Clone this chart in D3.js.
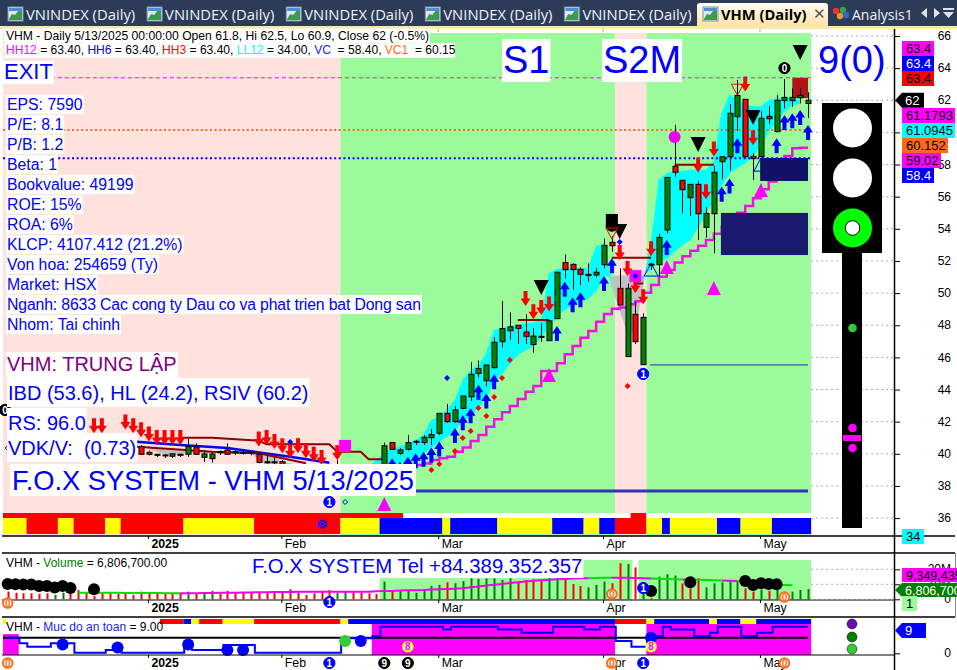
<!DOCTYPE html>
<html><head><meta charset="utf-8">
<script src="https://cdn.jsdelivr.net/npm/d3@7/dist/d3.min.js"></script>
<style>html,body{margin:0;padding:0;background:#fff;overflow:hidden}svg{display:block}text{font-family:"Liberation Sans",Arial,sans-serif}</style>
</head><body><svg id="c" width="957" height="670"></svg>
<script>
// ---------- DATA ----------
const tabTitles=["VNINDEX (Daily)","VNINDEX (Daily)","VNINDEX (Daily)","VNINDEX (Daily)","VNINDEX (Daily)"];
const firstCandle=17;
const opens=[40.45,40.09,39.97,39.93,39.85,39.97,39.97,40.43,39.78,39.7,40.13,40.24,40.13,40.1,40.1,39.97,39.5,39.5,39.51,39.1,38.9,38.7,38.5,38.3,38.2,38.1,38.4,38.7,38.8,38.9,39,39.2,40.7,40.03,40.28,40.74,40.7,41,41.28,42.52,42,42.83,43.55,45,44.55,45.36,46.98,47.66,48,47.58,46.8,47.27,47.04,48.41,51.9,51.79,51.48,51.17,51.13,51.77,53.16,50.3,46.05,48.68,45.55,51.75,51.77,53.93,57.89,57.02,55.94,56.77,54.09,54.94,58.18,58.49,60.98,62.06,58.51,58.49,61,60.05,61.98,61.98,62.16,61.8];
const highs=[40.55,40.2,40,39.97,40,40,40.96,40.65,40.24,40.13,40.2,40.65,40.24,40.2,40.2,40.13,39.9,39.75,39.6,39.2,39,38.9,38.7,38.5,38.4,39.6,38.9,39,39,39.2,39.3,40.7,40.7,40.35,41.17,40.85,41.17,41.55,42.52,43.1,42.98,43.6,45.7,45.8,45.53,47.25,49.5,48.8,48,48.68,47.83,48.12,48.3,51.3,52.4,51.85,51.6,51.85,51.55,53.4,53.55,51.54,50.6,49.47,48.74,51.9,53.68,57.2,60.46,57.02,56.77,56.98,55.36,57.91,58.53,61.77,63.26,62.06,58.7,61.31,61.64,62.33,63.32,62.74,62.74,62.5];
const lows=[39.93,39.9,39.8,39.75,39.75,39.8,39.82,39.93,39.51,39.45,39.93,39.93,39.93,39.95,39.9,39.41,39.4,39.35,39.1,38.7,38.6,38.4,38.2,38,37.9,37.9,38.2,38.5,38.5,38.7,38.8,39,40.28,39.93,40.2,40.55,40.55,40.55,41.17,41.94,41.94,42.77,43.3,44.74,44.2,45.32,46.6,47.1,46.83,46.83,46.3,46.98,47.04,48.41,50.92,50.2,50.5,50.7,50.98,51.55,52.58,49.26,46.05,46.83,45.55,51.44,51.02,53.72,57.25,54.96,54.8,53.3,53.45,52.47,57.08,57.62,60.11,58.39,57.04,58.43,60.52,60,61.5,61.6,61.81,60.9];
const closes=[39.97,39.97,39.93,39.9,40,39.95,40.45,39.97,39.99,39.99,40.09,39.97,40.1,40.08,40.08,39.47,39.48,39.47,39.2,38.9,38.7,38.5,38.3,38.2,38.1,38.5,38.7,38.8,38.9,39,39.1,40.5,40.28,40.24,40.7,40.78,41.03,41.2,42.52,42,42.73,43.6,44.95,45.3,45.53,46.94,47.8,47.9,47.8,47.3,47.33,47.31,48.27,51.3,51.46,51.46,51.17,51.09,51.3,52.97,52.95,49.26,50.3,46.98,48.49,51.8,53.47,57.2,57.52,56.44,56.77,54.94,54.96,57.52,58.49,61.19,62.3,58.49,58.37,60.88,60.85,62,62.18,62.18,62.3,62];

const firstBand=18;
const bandFast=[40.28,40.13,39.99,39.93,39.97,40.03,40.03,40.03,40.03,40.18,40.18,40.18,40.18,40.18,39.51,39.41,39.41,39,38.9,38.8,38.7,38.6,38.5,38.45,38.5,38.7,38.9,39.05,39.2,39.62,40.03,40.34,40.45,40.65,40.86,41.17,42.1,42.31,42.73,43.35,44.6,45.2,45.5,46.25,47.7,47.8,47.95,48,48.1,48.16,48.3,51.23,51.48,51.55,51.55,51.55,51.55,52.9,53.1,50.4,48.95,47.5,47.7,50.6,53.2,57.04,57.45,57.56,57.6,57.66,57.66,57.66,58.18,61.2,62.33,62,61.7,61.6,61.6,62,62.1,62.1,62.1,62];
const bandSlow=[40.45,40.34,40.28,40.24,40.2,40.18,40.18,40.18,40.18,40.03,40.03,40.03,40.03,40.03,40.07,39.93,39.78,39.5,39.4,39.3,39.2,39.1,39,38.95,38.9,38.85,38.8,38.8,38.85,38.99,39.1,39.2,39.4,39.5,39.7,40.03,40.34,40.76,41.07,41.48,42,42.3,42.9,43.56,44.5,45,45.6,46.15,46.46,46.67,47.3,47.9,48.64,48.95,49.26,49.47,49.68,50.1,51.1,51,51.1,51.1,51,51.1,51.5,51.96,52.16,52.58,53,53.3,54.1,54.96,55.8,56.73,57.45,57.8,58.1,58.5,59.2,60.05,60.7,61.3,61.7,61.8];

const firstStop=52;
const stopLine=[39.2,39.3,39.4,39.62,39.72,39.82,40.13,40.4,40.8,41.17,41.69,42.15,42.58,42.98,43.41,43.87,44.22,45.15,45.15,45.63,46.2,46.71,47.23,47.64,48.22,48.7,49.03,49.1,49.3,49.5,50.03,50.5,51.02,51.44,51.9,52.3,52.64,52.95,53.3,53.7,54.13,54.55,55,55.42,55.9,56.46,56.94,57.66,58.53,59.01,59.05];
const blueAvg=[[16,40.76],[22,40.55],[28,40.36],[36,39.82],[41,39.45]];
const wineUpper=[[22,41],[26,41],[32,40.82],[33,40.59],[41,40.59],[42,40.13],[45,40.13],[46,39.66],[48,39.66]];
const wineLower=[[16,40.45],[26,40.13],[32,40.03],[38,39.41]];
const wineLevels=[[65,69,48.33],[77,82,52.2],[85,90,57.99],[80,81,50.6]];

const exitLevels=[{v:63.4,c:"#ff00ff",w:1,d:"4,3",from:6.1},{v:60.15,c:"#ff6a1a",w:2,d:"2,2.6",from:0},{v:58.4,c:"#0000ff",w:2,d:"2,2.6",from:0}];
const longLevels=[{v:37.69,c:"#3333bb",w:3,from:52},{v:45.53,c:"#2222cc",w:1,from:81.9}];
const zones=[{from:90.9,to:102,hi:54.99,lo:52.37,c:"#191970"},{from:95.9,to:102,hi:58.41,lo:56.98,c:"#111166"},{from:100,to:102,hi:63.4,lo:62.14,c:"#b01414"}];

const arrowsUp=[[49,39.72],[50,39.5],[51,39.82],[52,40.03],[53,40.13],[54,40.4],[55,40.76],[57,41.6],[58,42.4],[59,42.83],[60,44.3],[61,43.76],[62,44.95],[70,47.95],[71,50.7],[72,49.74],[73,50.05],[76,51.07],[77,52.17],[84,53.3],[91,56.62],[92,57.14],[93,59.63],[98,59.63],[99,61.08],[100,61.19],[101,61.4],[102,60.46]];
const arrowsDown=[[11,41.28],[12,41.28],[15,41.52],[16,41.28],[17,41.03],[18,40.76],[19,40.55],[20,40.55],[21,40.55],[22,40.55],[32,40.45],[33,40.55],[34,40.3],[35,40.03],[36,39.72],[37,40.03],[38,39.72],[39,39.5],[40,39.3],[42,39.6],[66,49.2],[67,48.37],[68,48.64],[69,48.85],[78,52.06],[79,51.07],[80,50],[81,49.3],[82,52.3],[88,57.5],[89,55.84],[90,58.5],[94,62.54],[95,59.2]];
const blackDown=[[101,64.51],[88,58.78],[95,60.46],[68,49.88],[78,53.37]];
const magentaUp=[[84,52.06],[90,50.75],[96,56.85],[69,45.34],[48,37.31]];
const hollowBlueUp=[[82,51.87],[96,58.4]];
const hollowRedDown=[[77,54.05],[93,63]];
const magentaSquares=[[80,51.06],[43,40.49]];
const magentaCircles=[[85,59.71]];
const blackSquares=[[77,54.49]];
const redDiamonds=[[54,39],[55,39.37],[57,40.18],[58,40.99],[59,41.42],[61,42.35],[60,42.85],[62,43.54],[63,44.72],[64,45.84],[79,44.22]];
const blueDiamonds=[[56,44.72],[78,53.18],[80,51.06],[36,40.74]];
const hollowDiamonds=[[43,37],[0,40.36]];
const mainBadges=[[41,37,"1","b"],[81,44.97,"1","b"],[99,64,"0","k"],[-0.35,42.73,"0","k"],[77,54.2,"","k"]];

const regimes=[[0,42,"#ffe1dd"],[43,77,"#9bfb9b"],[78,81,"#ffe1dd"],[82,102,"#9bfb9b"]];
const stripe=[[0,2,"y"],[3,6,"r"],[7,8,"y"],[9,12,"r"],[13,14,"y"],[15,22,"r"],[23,31,"y"],[32,42,"r"],[43,47,"y"],[48,55,"b"],[56,56,"y"],[57,62,"b"],[63,69,"y"],[70,73,"b"],[74,75,"y"],[76,77,"b"],[78,81,"r"],[82,83,"y"],[84,84,"b"],[85,90,"y"],[91,93,"b"],[94,97,"y"],[98,102,"b"]];
const thinStripe=[[0,50,"r"],[51,79,"w"],[80,81,"r"],[82,102,"w"]];
const moodStripe=[[20,22,"r"],[23,23,"b"],[24,24,"y"],[25,27,"r"],[28,31,"y"],[32,42,"r"],[43,43,"y"],[44,77,"b"],[78,81,"r"],[82,82,"y"],[83,89,"b"],[90,90,"y"],[91,93,"b"],[94,95,"y"],[96,102,"b"]];
const stripeColors={y:"#ffff00",r:"#ff0000",b:"#0000ff",w:"#ffffff"};

const dateTicks=[18,35,55,76,96];
const dateLabels=["2025","Feb","Mar","Apr","May"];
const priceTicks=[36,38,40,42,44,46,48,50,52,54,56,58,60,62,64,66];

const volumes=[5.1,4.4,4,4,3.6,4,2.9,4.4,4,6.2,4,2.2,4,4,3.6,4,2.9,5.1,4,4.4,3.6,3.6,4,5.1,3.6,4.4,5.6,3.6,5.6,4,4.9,4.4,4.9,4.4,4.9,4.9,6.7,4.4,2.9,4,5.6,6.2,4.4,5.1,5.1,4.4,4,3.6,11.8,5.1,6.2,6.2,4.4,6.7,8.9,9.6,11.3,10.7,12.2,14,13.6,14,14,12.9,14,11.3,12.9,13.3,13.3,14,14.4,13.3,10.2,8.9,8,9.6,11.8,10.7,24,23.6,21.3,9.6,0.7,15.1,16.7,15.8,10.7,7.3,14,8,10.7,11.3,12.9,11.8,7.3,5.1,6.2,5.6,6.2,5.1,5.1,6.2,6.8];
const volSigns="rrrrrrggrr"+"rrrrrrrrrr"+"rrrgrggrrr"+"rrrrrrrrrr"+"rrggrrrrgr"+"ggggggrggg"+"gggggrrrrg"+"grrrgggrrg"+"rgrgggrrrg"+"ggggrrgrgg"+"ggg";
const firstVolMA=9;
const volMA=[4.4,4.4,4.4,4.3,4.3,4.3,4.2,4.2,4.2,4.2,4.2,4.1,4,4,4.1,4.1,4.2,4.2,4.3,4.4,4.4,4.5,4.6,4.7,4.7,4.8,4.8,4.9,5,5.1,5.1,5.1,5.1,5.1,5.1,5.1,5.1,5.1,5.3,5.5,5.6,5.8,6,6.1,6.2,6.5,6.7,6.9,7.1,7.3,8,8.6,9.2,9.7,10.2,10.8,11.3,11.8,12.4,12.7,13,13.3,13.6,13.8,14,14.1,14.2,14.3,14.3,14.4,14.4,14.2,14,13.8,13.7,13.5,13.4,13.2,13.1,13,12.8,12.7,12.5,12.4,12.2,12,11.8,11.5,11.1,9.6,9.5,9.4];
const volMARuns=[[9,22,"#00e000"],[22,60,"#ee00ee"],[60,74,"#ee00ee"],[74,77,"#00e000"],[77,82,"#ee00ee"],[82,86,"#00e000"],[86,87,"#ee00ee"],[87,91,"#00e000"],[91,93,"#ee00ee"],[93,100,"#00e000"],[100,102,"#ee00ee"]];
const volDots=[[0,10.2],[1,10],[2,9.8],[3,9.8],[4,8.8],[5,8.8],[6,7.8],[7,8.8],[8,7.6],[11,6.7],[82,5.6],[87,11.3],[94,12.2],[95,9.6],[96,10.7],[97,10.2],[98,10]];
const volBadges=[[0,-2.5,"0","o"],[77,3.5,"0","o"],[99,1.5,"0","o"],[41,-1.8,"1","b"],[81,7.5,"1","b"]];
const volTicks=[0,10,20];

const mood=[5.3,5.3,3.4,2.25,2.25,2.25,3.4,3.4,3.4,.2,.2,.2,.2,1.1,2,.2,.2,.2,.2,.2,.2,.2,.2,2.8,1.1,1.1,1.1,1.1,2.8,2.8,2.8,2.8,.2,.2,.2,.2,.2,.2,.2,.2,.2,.2,.2,5.07,5.07,5.07,5.07,5.9,9,9,9,9,9,9,9,9,8.1,9,9,9,9,9,9,8.1,8.1,8.1,7,7,7,7,9,9,9,9,8.1,8.1,9,9,4.2,4.2,2.25,2.25,5.3,5.9,9,8.1,8.1,8.1,5.9,5.9,7,9,9,9,5.9,5.9,7,7,9,9,9,9,9];
const moodFill=[[0,1,6.5],[47,77,10],[82,102,10]];
const moodBase=5.3;
const moodDots=[[7,3,"#0000ff"],[14,2,"#0000ff"],[23,3,"#0000ff"],[28,1.1,"#0000ff"],[30,1.1,"#0000ff"],[45,4.2,"#0000ff"],[43,4.2,"#33cc33"],[82,5.3,"#0000ff"]];
const moodBadges=[[0,-3.3,"0","o"],[77,-3.3,"0","o"],[99,-3.3,"0","o"],[41,-3.3,"1","b"],[81,-3.3,"1","b"],[48,-3.3,"9","k"],[51,-3.3,"9","k"],[51,2.24,"8","y"],[82,2.24,"8","y"]];

const infoLines=["EPS: 7590","P/E: 8.1","P/B: 1.2","Beta: 1","Bookvalue: 49199","ROE: 15%","ROA: 6%","KLCP: 4107.412 (21.2%)","Von hoa: 254659 (Ty)","Market: HSX","Nganh: 8633 Cac cong ty Dau co va phat trien bat Dong san","Nhom: Tai chinh"];
const priceTags=[{t:"63.4",y:41,w:32,c:"#ff00ff",f:"#000"},{t:"63.4",y:56,w:32,c:"#0000ff",f:"#fff"},{t:"63.4",y:71,w:32,c:"#ff0000",f:"#000"},{t:"61.1793",y:108,w:53,c:"#ff00ff",f:"#000"},{t:"61.0945",y:123,w:53,c:"#00ffff",f:"#000"},{t:"60.152",y:138,w:46,c:"#ff6a1a",f:"#000"},{t:"59.02",y:153,w:39,c:"#ff00ff",f:"#000"},{t:"58.4",y:168,w:32,c:"#0000ff",f:"#fff"},{t:"34",y:529,w:22,c:"#00ffff",f:"#000"}];

// ---------- SCALES ----------
const W=957,H=670,LAST=102;
const svg=d3.select("#c");
const x=d3.scaleLinear().domain([0,LAST]).range([7.7,808]);
const y=d3.scaleLinear().domain([36,66]).range([518.1,36]);
const yV=d3.scaleLinear().domain([0,20]).range([599.3,569.3]);
const yM=d3.scaleLinear().domain([0,10]).range([653.3,623.8]);
const bx0=i=>x(i-.6), bx1=i=>x(i+.4);
const G=n=>svg.append("g").attr("class",n);

// ---------- WINDOW FRAME ----------
const frame=G("frame");
frame.append("rect").attr("width",W).attr("height",26).attr("fill","#2c3b58");
frame.append("rect").attr("y",26).attr("width",W).attr("height",3).attr("fill","#fbe6ae");
const tabs=G("tabs");
const tabFont='"Open Sans","Noto Sans",sans-serif';
function icon(g,px){
  g.append("rect").attr("x",px).attr("y",7).attr("width",15).attr("height",14).attr("fill","#dfe8f2").attr("stroke","#7f8fa5");
  g.append("path").attr("d",d3.line()([[px+1,19],[px+4,14],[px+7,15],[px+10,11],[px+14,9],[px+14,20],[px+1,20]])).attr("fill","#3c9a4a");
  g.append("rect").attr("x",px+1).attr("y",8).attr("width",13).attr("height",3).attr("fill","#4a8fd8");
}
tabTitles.forEach((t,k)=>{const ox=8+k*139.1;icon(tabs,ox);
  tabs.append("text").attr("x",ox+18).attr("y",20).attr("fill","#eef2f7").attr("font-size",14.8).style("font-family",tabFont).text(t);});
const act=svg.append("defs").append("linearGradient").attr("id","tabg").attr("x1",0).attr("y1",0).attr("x2",0).attr("y2",1);
act.append("stop").attr("offset",0).attr("stop-color","#fffdf6");act.append("stop").attr("offset",1).attr("stop-color","#fde2a4");
tabs.append("path").attr("d","M697,26V6q0,-3 3,-3H825q3,0 3,3V26Z").attr("fill","url(#tabg)");
icon(tabs,703);
tabs.append("text").attr("x",721).attr("y",20).attr("fill","#000").attr("font-weight","700").attr("font-size",14.7).style("font-family",tabFont).text("VHM (Daily)");
tabs.append("text").attr("x",813).attr("y",19).attr("fill","#555").attr("font-size",15).text("✕");
[["#e33",836,11],["#3a3",843,10],["#e92",840,16],["#36c",846,15]].forEach(d=>tabs.append("circle").attr("cx",d[1]).attr("cy",d[2]).attr("r",3.2).attr("fill",d[0]));
tabs.append("text").attr("x",852).attr("y",20).attr("fill","#eef2f7").attr("font-size",14).style("font-family",tabFont).text("Analysis1");
tabs.append("path").attr("d","M927,8v10l-6,-5ZM934,8v10l6,-5ZM943,8h11v2h-11ZM943,12h11l-5.5,6Z").attr("fill","#dfe4ec");

// ---------- MAIN BACKGROUND ----------
const bg=G("bg");
bg.selectAll("rect").data(regimes).join("rect").attr("x",d=>bx0(d[0])).attr("width",d=>bx1(d[1])-bx0(d[0])).attr("y",33).attr("height",503).attr("fill",d=>d[2]);
function runs(g,data,map,y0,h){g.selectAll(null).data(data).join("rect").attr("x",d=>bx0(d[0])).attr("width",d=>bx1(d[1])-bx0(d[0])).attr("y",y0).attr("height",h).attr("fill",d=>map[d[2]]);}
runs(G("s1"),thinStripe,stripeColors,513,5);
runs(G("s2"),stripe,stripeColors,518,16);

// ---------- BANDS ----------
const bandG=G("band");
const bandPts=bandFast.map((f,k)=>({i:firstBand+k,f,s:bandSlow[k]}));
bandG.selectAll("path").data(d3.pairs(bandPts)).join("path").attr("d",([a,b])=>d3.line()([[x(a.i),y(a.f)],[x(b.i),y(b.f)],[x(b.i),y(b.s)],[x(a.i),y(a.s)]])+"Z")
  .attr("fill",([a,b])=>(a.f+b.f>a.s+b.s)?"#00ffff":"#c0c0c0").attr("stroke",([a,b])=>(a.f+b.f>a.s+b.s)?"#00ffff":"#c0c0c0").attr("stroke-width",.5);

// trailing stop
G("stop").append("path").datum(stopLine).attr("d",d3.line().x((d,k)=>x(firstStop+k)).y(d=>y(d)).curve(d3.curveStepBefore)).attr("fill","none").attr("stroke","#f010e0").attr("stroke-width",2.5);

// hollow blue triangles before the zones
const tri=(w,h,dir)=>`M0,0L${w},${dir*h}L${-w},${dir*h}Z`;
G("hb").selectAll("path").data(hollowBlueUp).join("path").attr("transform",d=>`translate(${x(d[0])},${y(d[1])})`).attr("d",tri(7,13,1)).attr("fill","none").attr("stroke","#0000ff");

// zones
G("zones").selectAll("rect").data(zones).join("rect").attr("x",d=>x(d.from)).attr("width",d=>x(d.to)-x(d.from)).attr("y",d=>y(d.hi)).attr("height",d=>y(d.lo)-y(d.hi)).attr("fill",d=>d.c);

// level lines
const lv=G("levels");
lv.selectAll(".e").data(exitLevels).join("line").attr("x1",d=>bx0(d.from)).attr("x2",bx1(LAST)).attr("y1",d=>y(d.v)).attr("y2",d=>y(d.v)).attr("stroke",d=>d.c).attr("stroke-width",d=>d.w).attr("stroke-dasharray",d=>d.d);
lv.selectAll(".l").data(longLevels).join("line").attr("x1",d=>x(d.from)).attr("x2",x(LAST)).attr("y1",d=>y(d.v)).attr("y2",d=>y(d.v)).attr("stroke",d=>d.c).attr("stroke-width",d=>d.w);
const poly=d3.line().x(d=>x(d[0])).y(d=>y(d[1]));
lv.append("path").attr("d",poly(blueAvg)).attr("fill","none").attr("stroke","#0000ff").attr("stroke-width",2.5);
[wineUpper,wineLower].forEach(p=>lv.append("path").attr("d",poly(p)).attr("fill","none").attr("stroke","#8b0000").attr("stroke-width",2));
lv.selectAll(".w").data(wineLevels).join("line").attr("x1",d=>x(d[0])).attr("x2",d=>x(d[1])).attr("y1",d=>y(d[2])).attr("y2",d=>y(d[2])).attr("stroke","#8b0000").attr("stroke-width",2);

// ---------- CANDLES ----------
const cd=opens.map((o,k)=>({i:firstCandle+k,o,h:highs[k],l:lows[k],c:closes[k]}));
const cg=G("candles").selectAll("g").data(cd).join("g");
cg.append("line").attr("x1",d=>Math.round(x(d.i))+.5).attr("x2",d=>Math.round(x(d.i))+.5).attr("y1",d=>y(d.h)).attr("y2",d=>y(d.l)).attr("stroke","#000");
cg.append("rect").attr("x",d=>Math.round(x(d.i))-2).attr("width",5).attr("y",d=>Math.min(y(d.o),y(d.c))).attr("height",d=>Math.max(1,Math.abs(y(d.o)-y(d.c)))).attr("fill",d=>d.c>=d.o?"#008000":"#ff0000").attr("stroke","#000");

// ---------- MARKERS ----------
const mk=G("markers");
const at=d=>`translate(${x(d[0])},${y(d[1])})`;
const upArrow="M0,0L5,7.5L2,7.5L2,15L-2,15L-2,7.5L-5,7.5Z", downArrow="M0,0L5,-7.5L2,-7.5L2,-15L-2,-15L-2,-7.5L-5,-7.5Z";
mk.selectAll(".ad").data(arrowsDown).join("path").attr("transform",at).attr("d",downArrow).attr("fill","#ff0000");
mk.selectAll(".au").data(arrowsUp).join("path").attr("transform",at).attr("d",upArrow).attr("fill","#0000ff");
mk.selectAll(".bd").data(blackDown).join("path").attr("transform",at).attr("d",tri(7.5,15,-1)).attr("fill","#000");
mk.selectAll(".mu").data(magentaUp).join("path").attr("transform",at).attr("d",tri(7,14,1)).attr("fill","#ff00ff");
mk.selectAll(".ms").data(magentaSquares).join("rect").attr("transform",at).attr("x",-6).attr("y",-6).attr("width",12).attr("height",12).attr("fill","#ff00ff");
mk.selectAll(".bs").data(blackSquares).join("rect").attr("transform",at).attr("x",-6).attr("y",-7).attr("width",12).attr("height",14).attr("fill","#000");
mk.selectAll(".mc").data(magentaCircles).join("circle").attr("transform",at).attr("r",6).attr("fill","#ee00ee");
const dia=r=>`M0,${-r}L${r},0L0,${r}L${-r},0Z`;
mk.selectAll(".rd").data(redDiamonds).join("path").attr("transform",at).attr("d",dia(3)).attr("fill","#ff0000");
mk.selectAll(".bld").data(blueDiamonds).join("path").attr("transform",at).attr("d",dia(3)).attr("fill","#0000ff");
mk.selectAll(".hd").data(hollowDiamonds).join("path").attr("transform",at).attr("d",dia(2.5)).attr("fill","none").attr("stroke","#0000ff");

function badge(g,px,py,digit,kind){
  const s=g.append("g").attr("transform",`translate(${px},${py})`);
  const st={b:["#0000ff","#0000ff","#fff"],k:["#000","#000","#fff"],o:["#fff","#ff6a1a","#ff6a1a"],y:["#fff","#ffff00","#ee00ee"]}[kind];
  s.append("circle").attr("r",kind==="o"||kind==="y"?4.8:5.6).attr("fill",st[0]).attr("stroke",st[1]).attr("stroke-width",kind==="o"||kind==="y"?2:1);
  if(digit)s.append("text").attr("text-anchor","middle").attr("y",3.6).attr("font-size",10).attr("font-weight",700).attr("fill",st[2]).text(digit);
}
mainBadges.forEach(d=>badge(mk,x(d[0]),y(d[1]),d[2],d[3]));
mk.selectAll(".hr").data(hollowRedDown).join("path").attr("transform",at).attr("d","M-6,0H6L0,11Z").attr("fill","none").attr("stroke","#ff0000");
mk.append("text").attr("x",x(40.1)).attr("y",530).attr("text-anchor","middle").attr("font-size",16).attr("fill","#0000ff").style("font-family","DejaVu Sans").text("❅");

// ---------- DIVIDERS & DATE AXES ----------
const xT=d3.scaleLinear().domain(x.domain()).range(x.range().map(v=>v-1));
function dateAxis(py){
  const a=d3.axisBottom(xT).tickValues(dateTicks).tickFormat((d,k)=>dateLabels[k]).tickSize(3).tickPadding(-1);
  const g=svg.append("g").attr("transform",`translate(0,${py})`).call(a);
  g.select(".domain").remove();
  g.selectAll("text").attr("text-anchor","start").attr("x",3).attr("dy",0).attr("y",12).attr("font-size",12.3).attr("fill","#000").style("font-family","Liberation Sans").attr("font-weight",d=>d===18?700:400);
  g.selectAll("line").attr("stroke","#000");
  return g;
}

// ---------- VOLUME PANEL ----------
const vb=G("volbg");
vb.append("rect").attr("x",x(47.4)).attr("width",x(79.6)-x(47.4)).attr("y",560).attr("height",40).attr("fill","#9bfb9b");
vb.append("rect").attr("x",x(80.4)).attr("width",bx1(LAST)-x(80.4)).attr("y",560).attr("height",40).attr("fill","#9bfb9b");
G("vol").selectAll("line").data(volumes).join("line").attr("x1",(d,i)=>Math.round(x(i))+.5).attr("x2",(d,i)=>Math.round(x(i))+.5).attr("y1",d=>yV(d)).attr("y2",yV(0)).attr("stroke",(d,i)=>volSigns[i]==="g"?"#008000":"#ff0000").attr("stroke-width",2);
const vml=G("volma");
const maLine=d3.line().x(d=>x(d[0])).y(d=>yV(d[1]));
volMARuns.forEach(r=>{const pts=[];for(let i=r[0];i<=r[1];i++)pts.push([i,volMA[i-firstVolMA]]);
  vml.append("path").attr("d",maLine(pts)).attr("fill","none").attr("stroke",r[2]).attr("stroke-width",2);});
G("voldots").selectAll("circle").data(volDots).join("circle").attr("cx",d=>x(d[0])).attr("cy",d=>yV(d[1])).attr("r",6).attr("fill","#000");

// ---------- MOOD PANEL ----------
G("moodfill").selectAll("rect").data(moodFill).join("rect").attr("x",d=>bx0(d[0])).attr("width",d=>bx1(d[1])-bx0(d[0])).attr("y",d=>yM(d[2])).attr("height",d=>655-yM(d[2])).attr("fill","#ff00ff");
runs(G("s3"),moodStripe,stripeColors,619,5);
G("s4").append("rect").attr("x",3).attr("width",3).attr("y",619).attr("height",5).attr("fill","#ffff00");
const moodG=G("mood");
moodG.append("line").attr("x1",bx0(0)).attr("x2",x(LAST)).attr("y1",yM(moodBase)).attr("y2",yM(moodBase)).attr("stroke","#000").attr("stroke-width",2);
moodG.append("path").datum(mood).attr("d",d3.line().x((d,i)=>x(i)).y(d=>yM(d)).curve(d3.curveStep)).attr("fill","none").attr("stroke","#0000ff").attr("stroke-width",2);
moodG.selectAll("circle").data(moodDots).join("circle").attr("cx",d=>x(d[0])).attr("cy",d=>yM(d[1])).attr("r",6).attr("fill",d=>d[2]);

// ---------- AXIS LINES ----------
const ax=G("axes");
[[2,536,955,536],[2,553,955,553],[2,600,895,600],[2,617,955,617],[2,655,895,655]].forEach(d=>ax.append("line").attr("x1",d[0]).attr("y1",d[1]).attr("x2",d[2]).attr("y2",d[3]).attr("stroke","#000").attr("stroke-width",d[1]===600||d[1]===655?1:1.5));
ax.append("line").attr("x1",894.5).attr("x2",894.5).attr("y1",29).attr("y2",H).attr("stroke","#000").attr("stroke-width",1.5);
ax.append("line").attr("x1",955.5).attr("x2",955.5).attr("y1",553).attr("y2",617).attr("stroke","#888");
dateAxis(536);dateAxis(600);dateAxis(655);
const gridG=G("grid");
gridG.selectAll(".p").data(priceTicks).join("line").attr("x1",bx1(LAST)).attr("x2",894).attr("y1",d=>y(d)).attr("y2",d=>y(d)).attr("stroke","#aaa").attr("stroke-dasharray","2,3");
gridG.selectAll(".v").data(volTicks).join("line").attr("class","v").attr("x1",bx1(LAST)).attr("x2",894).attr("y1",d=>yV(d)).attr("y2",d=>yV(d)).attr("stroke","#aaa").attr("stroke-dasharray","2,3");
gridG.selectAll(".d").data(dateTicks).join("line").attr("class","d").attr("x1",d=>xT(d)).attr("x2",d=>xT(d)).attr("y1",29).attr("y2",32).attr("stroke","#aaa");
function rightAxis(scale,vals,fmt){
  const g=svg.append("g").attr("transform","translate(895,0)").call(d3.axisRight(scale).tickValues(vals).tickFormat(fmt).tickSize(5).tickPadding(51));
  g.select(".domain").remove();
  g.selectAll("text").attr("text-anchor","end").attr("font-size",12).attr("fill","#000").attr("dy",".3em").style("font-family","Liberation Sans");
  g.selectAll("line").attr("stroke","#000");
}
rightAxis(y,priceTicks,d=>d);
rightAxis(yV,volTicks,d=>d?d+"M":"0");
rightAxis(yM,[0],d=>d);

// ---------- PANEL BADGES ----------
volBadges.forEach(d=>badge(svg,x(d[0]),yV(d[1]),d[2],d[3]));
moodBadges.forEach(d=>badge(svg,x(d[0]),yM(d[1]),d[2],d[3]));

// ---------- TEXT BOXES ----------
function label(px,base,t,size,fill,o={}){
  const g=svg.append("g");const r=g.append("rect").attr("fill","#fff");
  const tx=g.append("text").attr("x",px).attr("y",base).attr("font-size",size).attr("fill",fill).style("white-space","pre").text(t);
  if(o.tl)tx.attr("textLength",o.tl).attr("lengthAdjust","spacing");
  const w=o.tl||tx.node().getComputedTextLength(),pl=o.pl??2,pr=o.pr??2;
  const h=o.h??Math.round(size*1.15);
  r.attr("x",px-pl).attr("y",o.top??(base-h+Math.round(size*.2)+1)).attr("width",w+pl+pr).attr("height",h);
  return g;
}
const BLUE="#0000ff";
infoLines.forEach((t,k)=>label(7,110+k*20,t,15.8,BLUE,{pl:1,pr:1,h:19,tl:t.length>40?414:0}));
label(4,79,"EXIT",22,BLUE,{pl:1,pr:1,h:23});
label(503,73,"S1",38,BLUE,{pl:1,pr:1,h:43});
label(603,73,"S2M",38,BLUE,{pl:1,pr:1,h:43});
label(818,73,"9(0)",38,BLUE,{pl:0,pr:0,h:43});
label(7,371,"VHM: TRUNG LẬP",20,"#800080",{pl:1,pr:1,top:352,h:26});
label(8,400,"IBD (53.6), HL (24.2), RSIV (60.2)",20,BLUE,{pl:1,pr:1,top:378,h:29});
label(8,430,"RS: 96.0",20,BLUE,{pl:1,pr:1,top:408,h:25});
label(8,455,"VDK/V:  (0.73)",20,BLUE,{pl:1,pr:1,top:433,h:29});
label(12,490,"F.O.X SYSTEM - VHM 5/13/2025",27.3,BLUE,{pl:2,pr:2,top:464,h:32});
label(252,573,"F.O.X SYSTEM Tel +84.389.352.357",20.35,BLUE,{pl:1,pr:1,h:21});

// ---------- HEADERS ----------
function rich(px,base,parts,size,bgw){
  const g=svg.append("g");
  if(bgw)g.append("rect").attr("x",px-2).attr("y",base-11).attr("width",bgw).attr("height",14.5).attr("fill","#fff");
  const t=g.append("text").attr("x",px).attr("y",base).attr("font-size",size).style("white-space","pre");
  parts.forEach(p=>t.append("tspan").attr("fill",p[1]).text(p[0]));
}
rich(6,39.5,[["VHM - Daily 5/13/2025 00:00:00 Open 61.8, Hi 62.5, Lo 60.9, Close 62 (-0.5%)","#000"]],12.15,426);
rich(6,54.3,[["HH12","#ff00ff"],[" = 63.40, ","#000"],["HH6","#0000ff"],[" = 63.40, ","#000"],["HH3","#ff0000"],[" = 63.40, ","#000"],["LL12","#00ffff"],[" = 34.00, ","#000"],["VC ","#2222ee"],[" = 58.40, ","#000"],["VC1 ","#ff6a1a"],[" = 60.15","#000"]],12.05,451);
rich(6,566.5,[["VHM - ","#000"],["Volume","#008000"],[" = 6,806,700.00","#000"]],12);
rich(6,630.7,[["VHM - ","#000"],["Muc do an toan","#2222ee"],[" = 9.00","#000"]],12);

// ---------- TRAFFIC LIGHT ----------
const tl=G("light");
tl.append("rect").attr("x",822).attr("y",103).attr("width",60).attr("height",150).attr("fill","#000");
tl.append("rect").attr("x",842).attr("y",253).attr("width",20).attr("height",275).attr("fill","#000");
tl.append("circle").attr("cx",852.5).attr("cy",128).attr("r",19.5).attr("fill","#fff");
tl.append("circle").attr("cx",852.5).attr("cy",178).attr("r",19.5).attr("fill","#fff");
tl.append("circle").attr("cx",852.5).attr("cy",228).attr("r",19.5).attr("fill","#00ff00");
tl.append("circle").attr("cx",852.5).attr("cy",228).attr("r",7.3).attr("fill","#fff").attr("stroke","#000");
tl.append("circle").attr("cx",852.5).attr("cy",328).attr("r",4.3).attr("fill","#33cc33");
tl.append("circle").attr("cx",852.5).attr("cy",428).attr("r",4.3).attr("fill","#ff00ff");
tl.append("rect").attr("x",843).attr("y",435).attr("width",18).attr("height",6).attr("fill","#ff00ff");
tl.append("circle").attr("cx",852.5).attr("cy",448).attr("r",4.3).attr("fill","#ff00ff");
[[624,"#6a0dad"],[637,"#008000"],[649,"#33cc33"]].forEach(d=>svg.append("circle").attr("cx",852).attr("cy",d[0]).attr("r",5).attr("fill",d[1]).attr("stroke","#000").attr("stroke-width",.5));

// ---------- RIGHT TAGS ----------
const tagG=G("tags");
function tag(xs,ys,w,h,c,f,t,arrow,size=13){
  if(arrow)tagG.append("path").attr("d",`M${xs},${ys+h/2}L${xs+7},${ys}H${xs+w}V${ys+h}H${xs+7}Z`).attr("fill",c);
  else tagG.append("rect").attr("x",xs).attr("y",ys).attr("width",w).attr("height",h).attr("fill",c);
  tagG.append("text").attr("x",xs+(arrow?10:4)).attr("y",ys+h/2+4.5).attr("font-size",size).attr("fill",f).text(t);
}
priceTags.forEach(d=>tag(902,d.y,d.w,15,d.c,d.f,d.t));
tag(895,y(62)-7.5,29,15,"#000","#fff","62",true);
tag(902,568,55,14,"#ff00ff","#000","9,349,435",false,12.5);
tag(895,583,62,14,"#008000","#fff","6,806,700",true,12.5);
tag(902,596,15,15,"#9bfb9b","#000","1");
tag(895,623,31,15,"#0000ff","#fff","9",true);
</script></body></html>
